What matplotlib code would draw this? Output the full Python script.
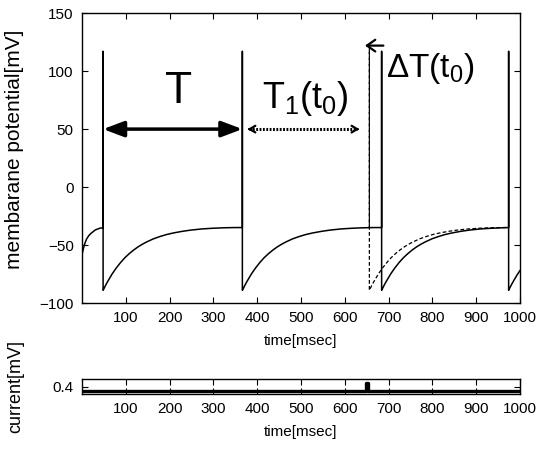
import numpy as np
import matplotlib
matplotlib.use("Agg")
import matplotlib.pyplot as plt

plt.rcParams['font.family'] = ['Liberation Sans', 'DejaVu Sans']
plt.rcParams['mathtext.fontset'] = 'custom'
plt.rcParams['mathtext.rm'] = 'Liberation Sans'
plt.rcParams['mathtext.it'] = 'Liberation Sans'

# membrane potential readings (msec, mV)
init_t = [0, 3, 6, 10, 15, 20, 25, 30, 40, 48]
init_v = [-58, -53, -49, -45, -42, -40, -38.5, -37, -35.5, -35]
# recovery after a spike: offsets from spike time and potential
rec_dt = [0, 2, 5, 10, 15, 20, 25, 30, 40, 50, 60, 70, 80, 90, 100, 115, 130,
          145, 160, 180, 200, 225, 250, 275, 300, 330]
rec_v = [-89, -87.5, -85.2, -81.7, -78.5, -75.3, -72.5, -69.8, -65, -60.8, -57.3,
         -54.2, -51.5, -49.2, -47.2, -44.6, -42.6, -40.9, -39.6, -38.2, -37.1,
         -36.1, -35.5, -35.1, -34.9, -34.8]
spike_peak = 117
spike_pre = -34.9
solid_spikes = [48, 366, 684, 974]
dashed_spike = 656
dashed_peak = 121
t_end = 1000

# injected current
cur_t = [0, 648, 648, 652, 652, 1000]
cur_v = [0.34, 0.34, 0.45, 0.45, 0.34, 0.34]


def trace(start_t, start_v, spikes, peak, stop):
    t = list(start_t)
    v = list(start_v)
    for i, s in enumerate(spikes):
        nxt = spikes[i + 1] if i + 1 < len(spikes) else stop
        t += [s, s]
        v += [peak, rec_v[0]]
        for d, vv in zip(rec_dt[1:], rec_v[1:]):
            if s + d < nxt:
                t.append(s + d)
                v.append(vv)
        if nxt < stop:
            t.append(nxt)
            v.append(spike_pre)
        else:
            t.append(stop)
            v.append(np.interp(stop - s, rec_dt, rec_v))
    return t, v


fig = plt.figure(figsize=(5.4, 4.53), dpi=100)
ax = fig.add_axes([0.152, 0.331, 0.811, 0.640])
ax2 = fig.add_axes([0.152, 0.130, 0.811, 0.033])

st, sv = trace(init_t, init_v, solid_spikes, spike_peak, t_end)
ax.plot(st, sv, color='black', lw=1.1)
dt_, dv_ = trace([dashed_spike], [spike_pre], [dashed_spike], dashed_peak, 974)
ax.plot(dt_, dv_, color='black', lw=0.9, ls=(0, (3, 1.8)))

ax.set_xlim(0, 1000)
ax.set_ylim(-100, 150)
ax.set_xticks(range(100, 1001, 100))
ax.set_yticks(range(-100, 151, 50))
ax.tick_params(direction='in', top=True, right=True, labelsize=11, length=4, width=0.8, pad=6)
ax.set_xlabel('time[msec]', fontsize=11, labelpad=6)
ax.set_ylabel('membarane potential[mV]', fontsize=15, labelpad=8)
for sp in ax.spines.values():
    sp.set_linewidth(1.0)

# annotations
ax.annotate('', xy=(48, 50), xytext=(366, 50),
            arrowprops=dict(arrowstyle='<|-|>,head_length=0.45,head_width=0.17',
                            mutation_scale=28, lw=2.5, color='black', shrinkA=0, shrinkB=0))
ax.text(221, 82, 'T', fontsize=32, ha='center', va='center')
ax.plot([382, 628], [50, 50], color='black', lw=2.2, ls=(0, (0.6, 0.5)))
ax.annotate('', xy=(378, 50), xytext=(386, 50),
            arrowprops=dict(arrowstyle='->,head_length=0.5,head_width=0.3', mutation_scale=8,
                            lw=1.6, color='black', shrinkA=0, shrinkB=0))
ax.annotate('', xy=(633, 50), xytext=(625, 50),
            arrowprops=dict(arrowstyle='->,head_length=0.5,head_width=0.3', mutation_scale=8,
                            lw=1.6, color='black', shrinkA=0, shrinkB=0))
ax.text(511, 76, r'$\mathregular{T_1(t_0)}$', fontsize=26, ha='center', va='center')
ax.annotate('', xy=(646, 122), xytext=(688, 122),
            arrowprops=dict(arrowstyle='->,head_length=0.5,head_width=0.35', mutation_scale=12,
                            lw=1.6, color='black', shrinkA=0, shrinkB=0))
ax.text(694, 102, r'$\mathregular{\Delta T(t_0)}$', fontsize=24, ha='left', va='center')

ax2.plot(cur_t, cur_v, color='black', lw=2.4)
ax2.set_xlim(0, 1000)
ax2.set_ylim(0.3, 0.5)
ax2.set_xticks(range(100, 1001, 100))
ax2.set_yticks([0.4])
ax2.tick_params(direction='in', top=True, right=True, labelsize=11, length=4, width=0.8, pad=6)
ax2.set_xlabel('time[msec]', fontsize=11, labelpad=6)
ax2.set_ylabel('current[mV]', fontsize=13, labelpad=12)
ax.yaxis.set_label_coords(-0.132, 0.53)
ax2.yaxis.set_label_coords(-0.132, 0.5)
for sp in ax2.spines.values():
    sp.set_linewidth(1.0)

fig.savefig('out.png', dpi=100)
